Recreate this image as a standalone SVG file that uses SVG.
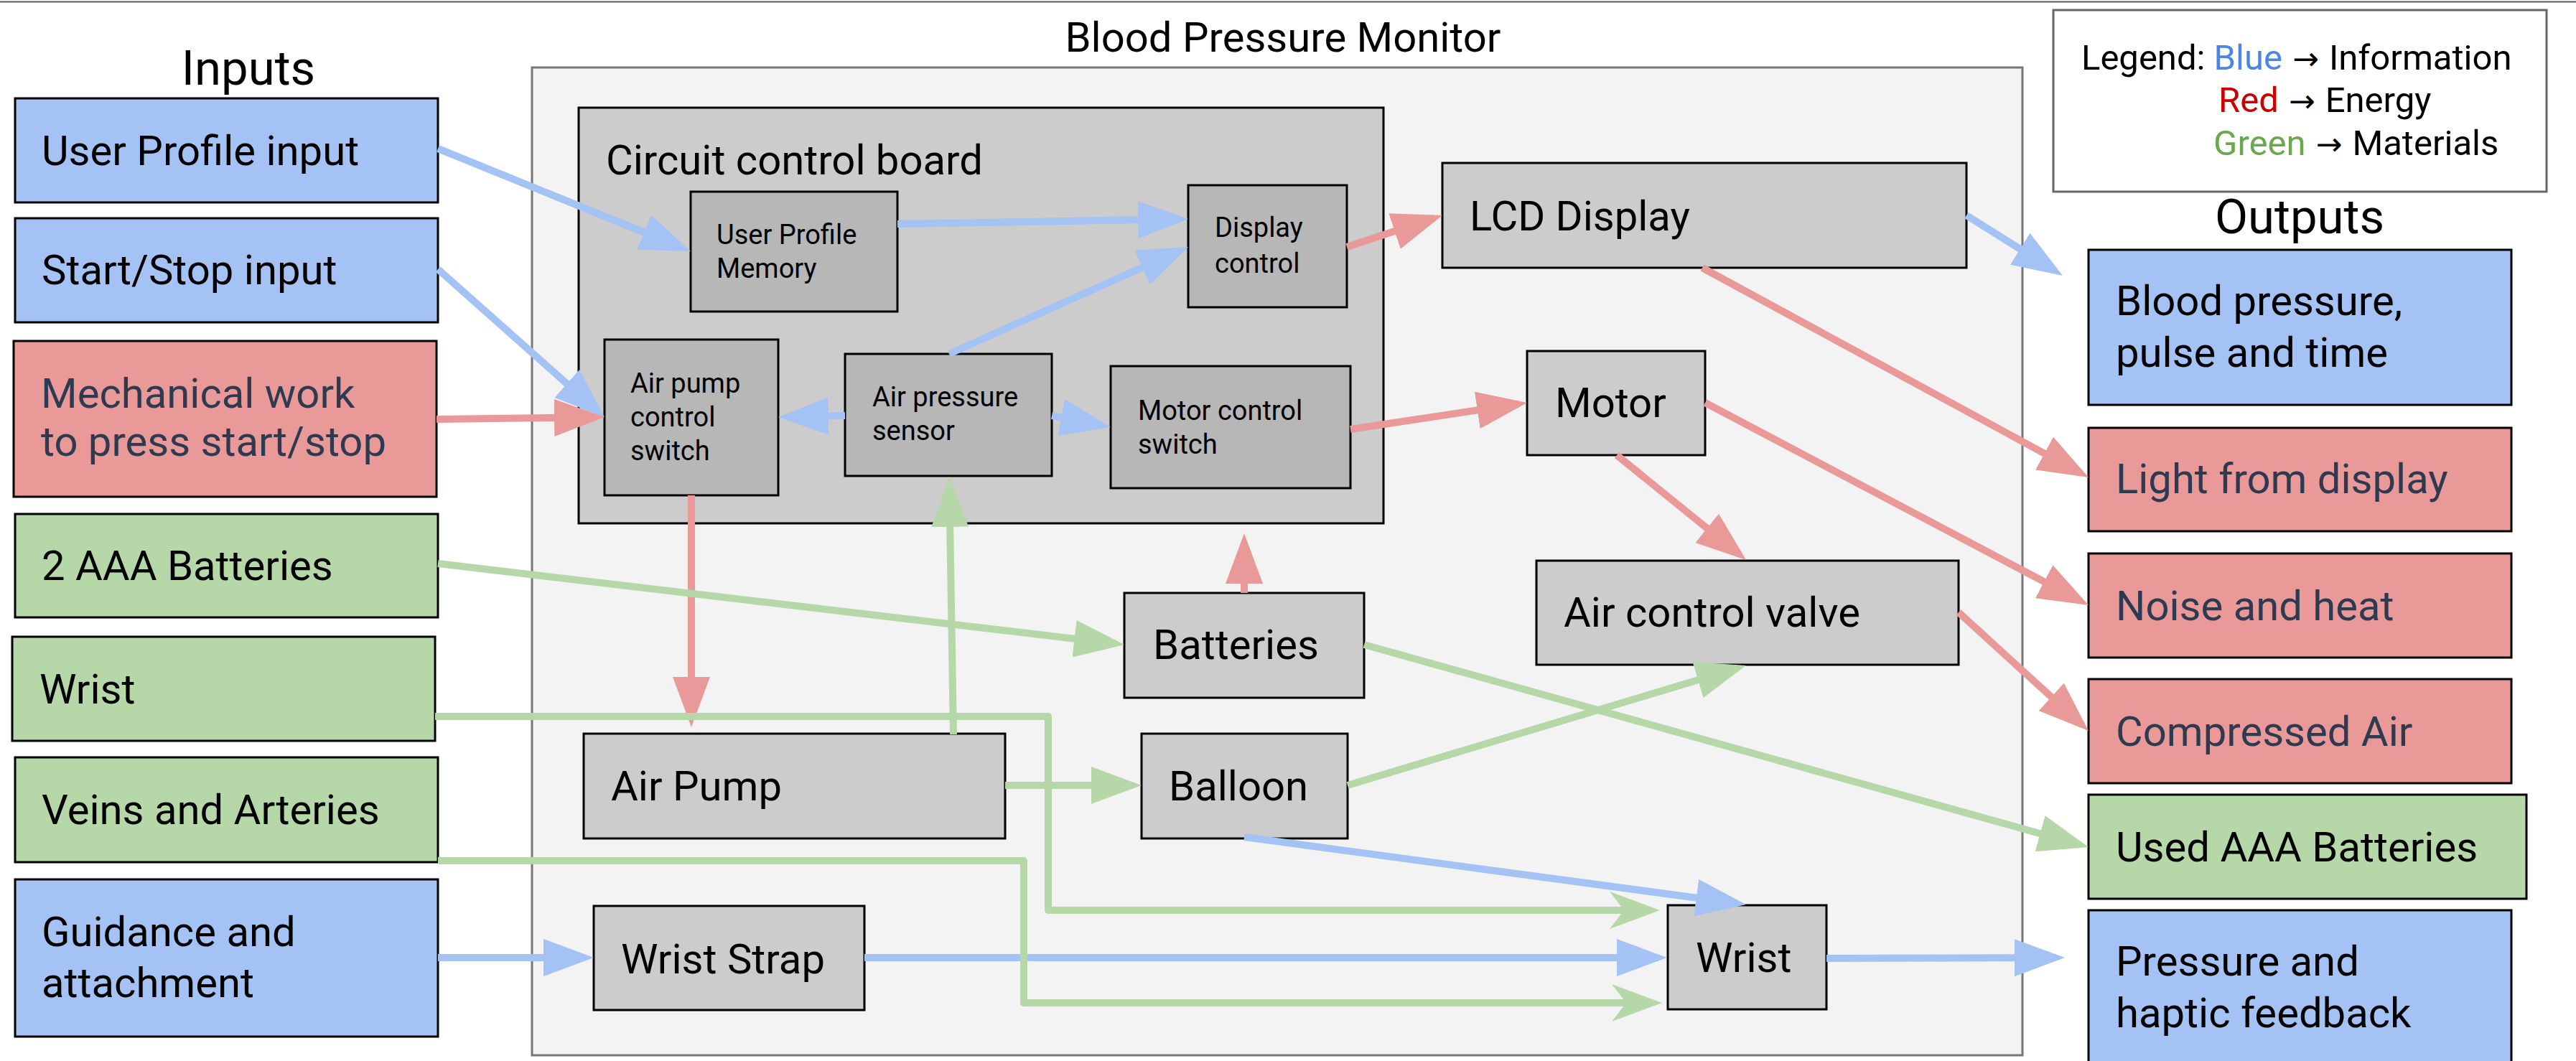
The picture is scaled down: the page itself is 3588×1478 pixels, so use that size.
<svg xmlns="http://www.w3.org/2000/svg" width="3588" height="1478" viewBox="0 0 3588 1478">
  <style>
    text { font-family: Roboto, "Liberation Sans", Arial, sans-serif; fill: #000; }
    .big { font-size: 58px; }
    .small { font-size: 38px; }
    .head { font-size: 67px; }
    .title { font-size: 58px; }
    .legend { font-size: 49px; }
    .arw { font-family: "DejaVu Sans", sans-serif; font-size: 44px; }
    .dark { fill: #2e3a50; }
    .box { stroke: #000; stroke-width: 3; }
    .blue { fill: #a4c2f4; }
    .red { fill: #ea9999; }
    .green { fill: #b6d7a8; }
    .gray { fill: #cccccc; }
    .dgray { fill: #b7b7b7; }
    .ln { fill: none; stroke-width: 10; stroke-linejoin: round; }
    .lb { stroke: #a4c2f4; marker-end: url(#ab); }
    .lr { stroke: #ea9999; marker-end: url(#ar); }
    .lg { stroke: #b6d7a8; marker-end: url(#ag); }
    .lgn { stroke: #b6d7a8; marker-end: url(#agn); }
  </style>
  <defs>
    <marker id="ab" markerUnits="userSpaceOnUse" viewBox="0 0 70 52" markerWidth="70" markerHeight="52" refX="58" refY="26" orient="auto">
      <path d="M0,0 L70,26 L0,52 Z" fill="#a4c2f4"/>
    </marker>
    <marker id="ar" markerUnits="userSpaceOnUse" viewBox="0 0 70 52" markerWidth="70" markerHeight="52" refX="58" refY="26" orient="auto">
      <path d="M0,0 L70,26 L0,52 Z" fill="#ea9999"/>
    </marker>
    <marker id="ag" markerUnits="userSpaceOnUse" viewBox="0 0 70 52" markerWidth="70" markerHeight="52" refX="58" refY="26" orient="auto">
      <path d="M0,0 L70,26 L0,52 Z" fill="#b6d7a8"/>
    </marker>
    <marker id="agn" markerUnits="userSpaceOnUse" viewBox="0 0 70 52" markerWidth="70" markerHeight="52" refX="50" refY="26" orient="auto">
      <path d="M0,0 L70,26 L0,52 L20,26 Z" fill="#b6d7a8"/>
    </marker>
  </defs>

  <rect x="0" y="0" width="3588" height="1478" fill="#fff"/>
  <line x1="0" y1="2.5" x2="3588" y2="2.5" stroke="#555b6e" stroke-width="2"/>

  <!-- headings -->
  <text class="title" x="1787" y="72" text-anchor="middle">Blood Pressure Monitor</text>
  <text class="head" x="346" y="118" text-anchor="middle">Inputs</text>
  <text class="head" x="3203" y="325" text-anchor="middle">Outputs</text>

  <!-- legend -->
  <g id="legend">
    <rect x="2860" y="14" width="687" height="253" fill="#fff" stroke="#666" stroke-width="3"/>
    <text class="legend" x="2899" y="97">Legend: <tspan fill="#4a86e8">Blue</tspan><tspan class="arw" dx="14">→</tspan><tspan dx="14">Information</tspan></text>
    <text class="legend" x="3090" y="156"><tspan fill="#cc0000">Red</tspan><tspan class="arw" dx="14">→</tspan><tspan dx="14">Energy</tspan></text>
    <text class="legend" x="3083" y="216"><tspan fill="#6aa84f">Green</tspan><tspan class="arw" dx="14">→</tspan><tspan dx="14">Materials</tspan></text>
  </g>

  <!-- system boundary -->
  <g id="monitor">
    <rect x="741" y="94" width="2076" height="1376" fill="#f3f3f3" stroke="#777" stroke-width="3"/>
  </g>

  <g id="circuit-board">
    <rect class="box gray" x="806" y="150" width="1121" height="579"/>
    <text class="big" x="844" y="243">Circuit control board</text>
  </g>

  <!-- inputs -->
  <g id="in-user-profile">
    <rect class="box blue" x="21" y="137" width="589" height="145"/>
    <text class="big" x="58" y="230">User Profile input</text>
  </g>
  <g id="in-start-stop">
    <rect class="box blue" x="21" y="304" width="589" height="145"/>
    <text class="big" x="58" y="396">Start/Stop input</text>
  </g>
  <g id="in-mechanical-work">
    <rect class="box red" x="19" y="475" width="589" height="217"/>
    <text class="big dark" x="57" y="568">Mechanical work</text>
    <text class="big dark" x="57" y="635">to press start/stop</text>
  </g>
  <g id="in-batteries">
    <rect class="box green" x="21" y="716" width="589" height="144"/>
    <text class="big" x="58" y="808">2 AAA Batteries</text>
  </g>
  <g id="in-wrist">
    <rect class="box green" x="17" y="887" width="589" height="145"/>
    <text class="big" x="55" y="980">Wrist</text>
  </g>
  <g id="in-veins">
    <rect class="box green" x="21" y="1055" width="589" height="146"/>
    <text class="big" x="58" y="1148">Veins and Arteries</text>
  </g>
  <g id="in-guidance">
    <rect class="box blue" x="21" y="1225" width="589" height="219"/>
    <text class="big" x="58" y="1318">Guidance and</text>
    <text class="big" x="58" y="1389">attachment</text>
  </g>

  <!-- circuit board parts -->
  <g id="user-profile-memory">
    <rect class="box dgray" x="962" y="267" width="288" height="167"/>
    <text class="small" x="998" y="340">User Profile</text>
    <text class="small" x="998" y="387">Memory</text>
  </g>
  <g id="display-control">
    <rect class="box dgray" x="1655" y="258" width="221" height="170"/>
    <text class="small" x="1692" y="330">Display</text>
    <text class="small" x="1692" y="380">control</text>
  </g>
  <g id="air-pump-control-switch">
    <rect class="box dgray" x="842" y="473" width="242" height="217"/>
    <text class="small" x="878" y="547">Air pump</text>
    <text class="small" x="878" y="594">control</text>
    <text class="small" x="878" y="641">switch</text>
  </g>
  <g id="air-pressure-sensor">
    <rect class="box dgray" x="1177" y="493" width="288" height="170"/>
    <text class="small" x="1215" y="566">Air pressure</text>
    <text class="small" x="1215" y="613">sensor</text>
  </g>
  <g id="motor-control-switch">
    <rect class="box dgray" x="1547" y="510" width="334" height="170"/>
    <text class="small" x="1585" y="585">Motor control</text>
    <text class="small" x="1585" y="632">switch</text>
  </g>

  <!-- other components -->
  <g id="lcd-display">
    <rect class="box gray" x="2009" y="227" width="730" height="146"/>
    <text class="big" x="2047" y="321">LCD Display</text>
  </g>
  <g id="motor">
    <rect class="box gray" x="2127" y="489" width="248" height="145"/>
    <text class="big" x="2166" y="581">Motor</text>
  </g>
  <g id="air-control-valve">
    <rect class="box gray" x="2140" y="781" width="588" height="145"/>
    <text class="big" x="2178" y="873">Air control valve</text>
  </g>
  <g id="batteries">
    <rect class="box gray" x="1566" y="826" width="334" height="146"/>
    <text class="big" x="1606" y="918">Batteries</text>
  </g>
  <g id="balloon">
    <rect class="box gray" x="1590" y="1022" width="287" height="146"/>
    <text class="big" x="1628" y="1115">Balloon</text>
  </g>
  <g id="air-pump">
    <rect class="box gray" x="813" y="1022" width="587" height="146"/>
    <text class="big" x="851" y="1115">Air Pump</text>
  </g>
  <g id="wrist-strap">
    <rect class="box gray" x="827" y="1262" width="377" height="145"/>
    <text class="big" x="865" y="1356">Wrist Strap</text>
  </g>
  <g id="wrist">
    <rect class="box gray" x="2323" y="1261" width="221" height="145"/>
    <text class="big" x="2362" y="1354">Wrist</text>
  </g>

  <!-- outputs -->
  <g id="out-readings">
    <rect class="box blue" x="2909" y="348" width="589" height="216"/>
    <text class="big" x="2947" y="439">Blood pressure,</text>
    <text class="big" x="2947" y="511">pulse and time</text>
  </g>
  <g id="out-light">
    <rect class="box red" x="2909" y="596" width="589" height="144"/>
    <text class="big dark" x="2947" y="687">Light from display</text>
  </g>
  <g id="out-noise-heat">
    <rect class="box red" x="2909" y="771" width="589" height="145"/>
    <text class="big dark" x="2947" y="864">Noise and heat</text>
  </g>
  <g id="out-compressed-air">
    <rect class="box red" x="2909" y="946" width="589" height="145"/>
    <text class="big dark" x="2947" y="1039">Compressed Air</text>
  </g>
  <g id="out-used-batteries">
    <rect class="box green" x="2909" y="1107" width="610" height="145"/>
    <text class="big" x="2947" y="1200">Used AAA Batteries</text>
  </g>
  <g id="out-feedback">
    <rect class="box blue" x="2909" y="1268" width="589" height="230"/>
    <text class="big" x="2947" y="1359">Pressure and</text>
    <text class="big" x="2947" y="1431">haptic feedback</text>
  </g>

  <!-- flows -->
  <g id="connectors" class="ln">
    <!-- information -->
    <path class="lb" d="M610,207 L950.9,345.5"/>
    <path class="lb" d="M610,375 L833,573"/>
    <path class="lb" d="M1250,312 L1643,305.2"/>
    <path class="lb" d="M1322,493 L1644,348.9"/>
    <path class="lb" d="M1177,579 L1096,580.8"/>
    <path class="lb" d="M1465,579 L1535.2,592.7"/>
    <path class="lb" d="M2739,300 L2862.8,377.6"/>
    <path class="lb" d="M1733,1166 L2420.1,1258.4"/>
    <path class="lb" d="M610,1334 L815,1334"/>
    <path class="lb" d="M1204,1334 L2310,1334"/>
    <path class="lb" d="M2544,1335 L2864,1334"/>
    <!-- energy -->
    <path class="lr" d="M608,584 L830,581.2"/>
    <path class="lr" d="M1876,344 L1997.6,303.8"/>
    <path class="lr" d="M1881,598 L2115.1,562.8"/>
    <path class="lr" d="M2371,373 L2898.5,659.3"/>
    <path class="lr" d="M2375,561 L2898.4,837.4"/>
    <path class="lr" d="M2252,634 L2422.7,772.4"/>
    <path class="lr" d="M2728,853 L2900.1,1009.9"/>
    <path class="lr" d="M1733,826 L1733,755"/>
    <path class="lr" d="M963,690 L963,1001"/>
    <!-- materials -->
    <path class="lg" d="M610,785 L1554.1,896.6"/>
    <path class="lg" d="M1900,898 L2897.4,1176.8"/>
    <path class="lg" d="M1328,1023 L1322.2,676"/>
    <path class="lg" d="M1400,1094 L1578,1094"/>
    <path class="lg" d="M1877,1094 L2420.5,930.5"/>
    <path class="lgn" d="M606,998 H1460 V1268 H2292"/>
    <path class="lgn" d="M610,1199 H1426 V1397 H2295"/>
  </g>
</svg>
